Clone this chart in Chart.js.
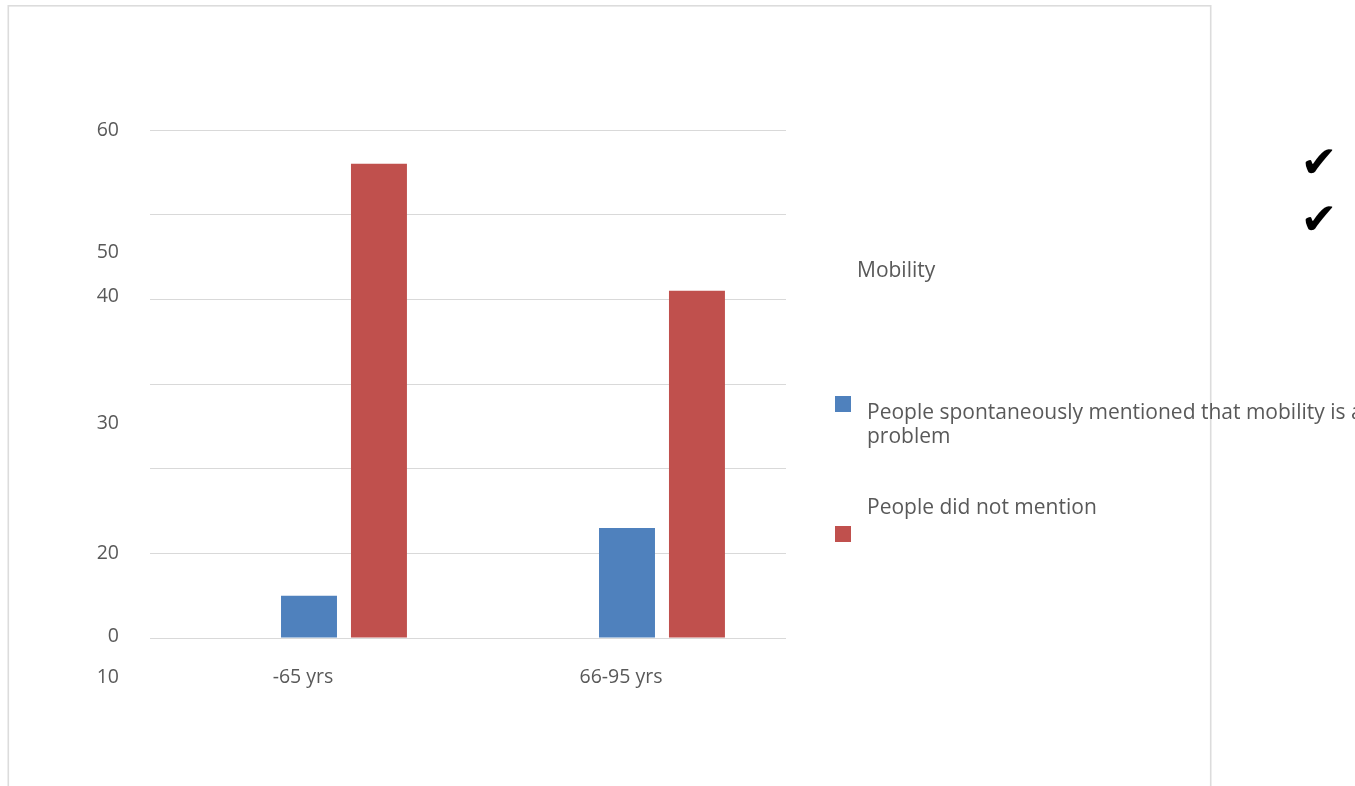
<!DOCTYPE html>
<html>
<head>
<meta charset="utf-8">
<script src="https://cdn.jsdelivr.net/npm/chart.js@4.4.1/dist/chart.umd.min.js"></script>
<style>
html,body{margin:0;padding:0;background:#fff;overflow:hidden;}
#wrap{position:relative;width:1355px;height:786px;}
</style>
</head>
<body>
<div id="wrap"><canvas id="c" width="1355" height="786"></canvas></div>
<script>
// ---- data ----
const categories = ["-65 yrs", "66-95 yrs"];
const mentionedProblem = [5, 13];
const didNotMention = [56, 41];
const seriesNames = ["People spontaneously mentioned that mobility is a problem", "People did not mention"];
const legendTitle = "Mobility";
// tick labels as printed in the source (they are misplaced there)
const yTickLabels = ["60", "50", "40", "30", "20", "0", "10"];
const yTickLabelAt = [60, 45.5, 40.3, 25.3, 10, 0.2, -4.7];

const BLUE = "#4F81BD", RED = "#C0504D", TXT = "#595959", GRID = "#d9d9d9";
const FONT = "'Open Sans', 'Liberation Sans', sans-serif";

const overlay = {
  id: 'overlay',
  beforeDraw(chart) {
    const ctx = chart.ctx;
    ctx.save();
    ctx.fillStyle = '#fff';
    ctx.fillRect(0, 0, chart.width, chart.height);
    ctx.strokeStyle = '#dcdcdc';
    ctx.lineWidth = 1.6;
    ctx.strokeRect(8.3, 5.8, 1202.4, 900);
    ctx.restore();
  },
  afterDraw(chart) {
    const ctx = chart.ctx;
    const ys = chart.scales.y, xs = chart.scales.x;
    ctx.save();
    ctx.fillStyle = TXT;
    ctx.font = "19.5px " + FONT;
    ctx.textBaseline = 'middle';
    // y labels
    ctx.textAlign = 'right';
    yTickLabels.forEach((t, i) => {
      ctx.fillText(t, 119, ys.getPixelForValue(yTickLabelAt[i]));
    });
    // x labels
    ctx.textAlign = 'center';
    categories.forEach((c, i) => {
      ctx.fillText(c, xs.getPixelForValue(i) - 6, ys.bottom + 39);
    });
    // legend
    ctx.font = "21px " + FONT;
    ctx.textAlign = 'left';
    ctx.fillText(legendTitle, 857, 271);
    const ds = chart.data.datasets.filter(d => d.label);
    // item 1
    ctx.fillStyle = ds[0].backgroundColor;
    ctx.fillRect(835, 396, 16, 16);
    ctx.fillStyle = TXT;
    const words = ds[0].label.split(' ');
    const line2 = words.pop();
    ctx.fillText(words.join(' '), 867, 413);
    ctx.fillText(line2, 867, 437);
    // item 2
    ctx.fillStyle = ds[1].backgroundColor;
    ctx.fillRect(835, 526, 16, 16);
    ctx.fillStyle = TXT;
    ctx.fillText(ds[1].label, 867, 508);
    // check marks
    ctx.fillStyle = '#000';
    ctx.font = "44px 'DejaVu Sans', sans-serif";
    ctx.textAlign = 'center';
    ctx.fillText('\u2714', 1319, 166);
    ctx.fillText('\u2714', 1319, 223);
    ctx.restore();
  }
};

new Chart(document.getElementById('c'), {
  type: 'bar',
  data: {
    labels: categories,
    datasets: [
      { label: '', data: [null, null], backgroundColor: 'rgba(0,0,0,0)' },
      { label: seriesNames[0], data: mentionedProblem, backgroundColor: BLUE },
      { label: seriesNames[1], data: didNotMention, backgroundColor: RED }
    ]
  },
  options: {
    responsive: false,
    animation: false,
    devicePixelRatio: 1,
    layout: { padding: { left: 150, right: 569, top: 130, bottom: 148 } },
    datasets: { bar: { barPercentage: 0.8, categoryPercentage: 0.66 } },
    plugins: { legend: { display: false }, tooltip: { enabled: false }, title: { display: false } },
    scales: {
      x: {
        grid: { display: false, drawTicks: false },
        border: { display: false },
        ticks: { display: false }
      },
      y: {
        min: 0, max: 60,
        ticks: { display: false, stepSize: 10 },
        grid: { color: GRID, lineWidth: 1, drawTicks: false },
        border: { display: false }
      }
    }
  },
  plugins: [overlay]
});
</script>
</body>
</html>
